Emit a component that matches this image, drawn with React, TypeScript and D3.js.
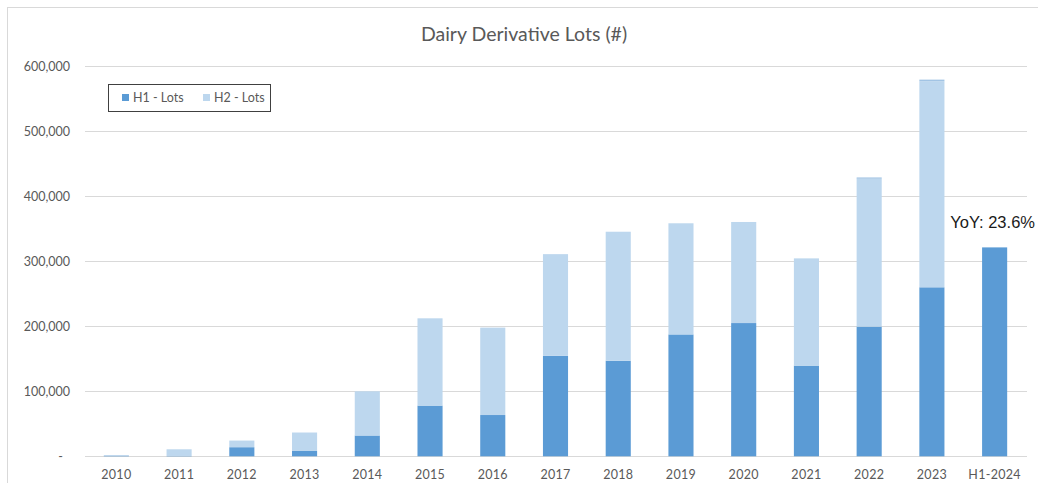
import React from "react";
import * as d3 from "d3";

const categories = ["2010","2011","2012","2013","2014","2015","2016","2017","2018","2019","2020","2021","2022","2023","H1-2024"];
const h1Lots = [500, 500, 14000, 8200, 32000, 78000, 63500, 154500, 147000, 187500, 205000, 139500, 199500, 260000, 321400];
const h2Lots = [1500, 10300, 10200, 28400, 68000, 134300, 134500, 156500, 198500, 171000, 155500, 165000, 227500, 317000, 0];
const topLots = [0, 0, 0, 0, 0, 0, 0, 0, 0, 0, 0, 0, 2000, 2500, 0];
const yTicks = [0, 100000, 200000, 300000, 400000, 500000, 600000];
const seriesNames = ["H1 - Lots", "H2 - Lots"];
const title = "Dairy Derivative Lots (#)";
const yoyLabel = "YoY: 23.6%";

const W = 1038;
const H = 483;
const colors = ["#5b9bd5", "#bdd7ee", "#a2c4e4"];
const font = "Lato, 'Open Sans', sans-serif";

export default function App() {
  const x = d3.scaleBand<string>().domain(categories).range([85, 1026]).paddingInner(0.6).paddingOuter(0.3);
  const y = d3.scaleLinear().domain([0, 600000]).range([456.3, 66.3]);

  const rows = categories.map((c, i) => ({ cat: c, h1: h1Lots[i], h2: h2Lots[i], top: topLots[i] }));
  const stack = d3.stack<any>().keys(["h1", "h2", "top"])(rows);
  const fmt = (v: number) => (v === 0 ? "-" : d3.format(",")(v));

  const last = categories[categories.length - 1];

  return (
    <svg width={W} height={H} style={{ position: "absolute", left: 0, top: 0, background: "#fff" }}>
      <rect x={7.5} y={7.5} width={W + 10} height={H + 10} fill="#fff" stroke="#d9d9d9" />
      <text x={524} y={41} textAnchor="middle" fontFamily={font} fontSize={19.5} fill="#595959">{title}</text>

      {yTicks.map((t) => (
        <g key={t}>
          <line x1={85} x2={1027} y1={Math.round(y(t)) + 0.5} y2={Math.round(y(t)) + 0.5} stroke="#d9d9d9" strokeWidth={1} />
          <text x={t === 0 ? 63 : 70} y={y(t) + 4.5} textAnchor="end" fontFamily={font} fontSize={12.5} fill="#595959">{fmt(t)}</text>
        </g>
      ))}

      {stack.map((s, si) => (
        <g key={si} fill={colors[si]}>
          {s.map((d: any, i: number) => {
            const h = y(d[0]) - y(d[1]);
            if (h <= 0) return null;
            return <rect key={i} x={x(categories[i])} y={y(d[1])} width={x.bandwidth()} height={h} />;
          })}
        </g>
      ))}

      {categories.map((c) => (
        <text key={c} x={(x(c) as number) + x.bandwidth() / 2} y={479} textAnchor="middle" fontFamily={font} fontSize={12.5} fill="#595959" letterSpacing={0.3}>{c}</text>
      ))}

      <text x={(x(last) as number) + x.bandwidth() / 2 - 2} y={228} textAnchor="middle" fontFamily="'Liberation Sans', Arial, sans-serif" fontSize={16.5} fill="#1a1a1a">{yoyLabel}</text>

      <g>
        <rect x={108.5} y={84.5} width={162} height={27} fill="#fff" stroke="#404040" strokeWidth={1} />
        {seriesNames.map((n, i) => (
          <g key={n} transform={`translate(${122 + i * 81},0)`}>
            <rect x={0} y={94} width={7} height={7} fill={colors[i]} />
            <text x={11} y={102} fontFamily={font} fontSize={12.5} fill="#595959">{n}</text>
          </g>
        ))}
      </g>
    </svg>
  );
}
